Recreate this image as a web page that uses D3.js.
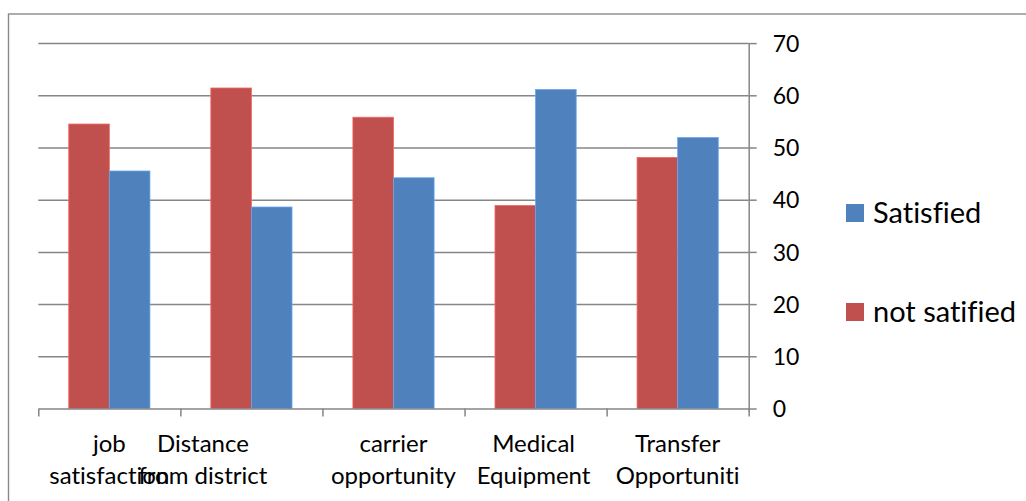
<!DOCTYPE html>
<html>
<head>
<meta charset="utf-8">
<script src="https://cdn.jsdelivr.net/npm/d3@7/dist/d3.min.js"></script>
<style>
  html, body { margin: 0; padding: 0; background: #fff; }
  svg { display: block; }
  text { font-family: Lato, "Open Sans", sans-serif; fill: #000; font-variant-ligatures: none; font-feature-settings: "liga" 0; }
</style>
</head>
<body>
<svg id="chart" width="1026" height="501"></svg>
<script>
// ---- data ----
const categories = ["job satisfaction", "Distance from district", "carrier opportunity", "Medical Equipment", "Transfer Opportunities"];
const categoryLabelLines = [["job", "satisfaction"], ["Distance", "from district"], ["carrier", "opportunity"], ["Medical", "Equipment"], ["Transfer", "Opportuniti"]];
const seriesNames = ["not satified", "Satisfied"];
const notSatisfied = [54.5, 61.4, 55.8, 38.9, 48.1];
const satisfied = [45.5, 38.6, 44.2, 61.1, 51.9];
const yTicks = [0, 10, 20, 30, 40, 50, 60, 70];
const legendOrder = ["Satisfied", "not satified"];

// ---- drawing ----
(function () {
const colors = { "not satified": "#C0504D", "Satisfied": "#4F81BD" };
const seriesValues = { "not satified": notSatisfied, "Satisfied": satisfied };

const svg = d3.select("#chart");
const pLeft = 38.3, pRight = 748.7, pTop = 43.1, pBottom = 408.5;
const gray = "#868686";

// outer chart border
svg.append("rect")
  .attr("x", 8.5).attr("y", 14).attr("width", 1030).attr("height", 500)
  .attr("fill", "none").attr("stroke", "#8a8a8a").attr("stroke-width", 1.4);

const y = d3.scaleLinear().domain([0, 70]).range([pBottom, pTop]);
const x = d3.scaleBand().domain(categories).range([pLeft, pRight]).paddingInner(0).paddingOuter(0);
const xSub = d3.scaleBand().domain(seriesNames).range([0, x.bandwidth()]).paddingInner(0).paddingOuter(0.75);

// gridlines
const grid = svg.append("g").attr("transform", `translate(${pRight},0)`)
  .call(d3.axisLeft(y).tickValues(yTicks.filter(d => d > 0)).tickSize(pRight - pLeft).tickFormat(""));
grid.select(".domain").remove();
grid.selectAll("line").attr("stroke", gray).attr("stroke-width", 1.5);

// bars
const groups = svg.append("g").selectAll("g").data(categories).join("g")
  .attr("transform", d => `translate(${x(d)},0)`);
groups.selectAll("rect")
  .data((d, i) => seriesNames.map(s => ({ s, v: seriesValues[s][i] })))
  .join("rect")
  .attr("x", d => xSub(d.s))
  .attr("width", xSub.bandwidth())
  .attr("y", d => y(d.v))
  .attr("height", d => y(0) - y(d.v))
  .attr("fill", d => colors[d.s])
  .attr("stroke", d => d3.color(colors[d.s]).brighter(0.7))
  .attr("stroke-width", 0.8);

// x axis (category boundaries)
const xb = d3.scaleLinear().domain([0, categories.length]).range([pLeft, pRight]);
const xAxis = svg.append("g").attr("transform", `translate(0,${pBottom})`)
  .call(d3.axisBottom(xb).tickValues(d3.range(categories.length + 1)).tickSize(8).tickSizeOuter(0).tickFormat(""));
xAxis.selectAll("line, path").attr("stroke", gray).attr("stroke-width", 1.5);

// right y axis
const yAxis = svg.append("g").attr("transform", `translate(${pRight},0)`)
  .call(d3.axisRight(y).tickValues(yTicks).tickSize(8).tickSizeOuter(0).tickPadding(16));
yAxis.select(".domain").attr("stroke", gray).attr("stroke-width", 1.5)
  .attr("d", `M0.5,${pTop}V${pBottom + 3}`);
yAxis.selectAll("line").attr("stroke", gray).attr("stroke-width", 1.5);
yAxis.selectAll("text").attr("font-size", 23).attr("fill", "#000")
  .style("font-family", "Lato, sans-serif").attr("dy", "0.36em");

// category labels
const labelShift = [0, -48.5, 0, -2, 0];
const lab = svg.append("g").selectAll("text").data(categories).join("text")
  .attr("text-anchor", "middle")
  .attr("font-size", 24)
  .attr("x", (d, i) => x(d) + x.bandwidth() / 2 + labelShift[i]);
lab.selectAll("tspan").data((d, i) => categoryLabelLines[i]).join("tspan")
  .attr("x", function () { return d3.select(this.parentNode).attr("x"); })
  .attr("y", (d, j) => 452 + j * 32)
  .text(d => d);

// legend
const leg = svg.append("g").selectAll("g").data(legendOrder).join("g")
  .attr("transform", (d, i) => `translate(846,${204 + i * 99})`);
leg.append("rect").attr("width", 18).attr("height", 18).attr("fill", d => colors[d]);
leg.append("text").attr("x", 27).attr("y", 19).attr("font-size", 29).text(d => d);
})();
</script>
</body>
</html>
